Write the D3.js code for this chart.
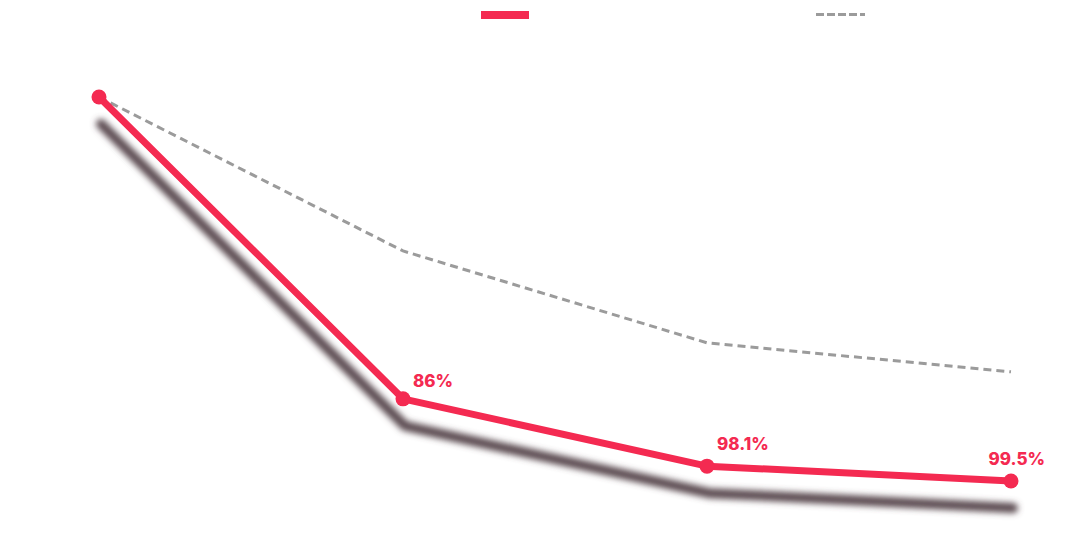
<!DOCTYPE html>
<html><head><meta charset="utf-8">
<script src="https://cdn.jsdelivr.net/npm/d3@7"></script>
<style>html,body{margin:0;padding:0;background:#fff;}svg{display:block;}</style>
</head><body>
<svg id="chart" width="1070" height="560"></svg>
<script>
const steps = [0, 1, 2, 3];
const redValues = [100, 25.1, 8.4, 4.7];
const grayValues = [100, 61.8, 39.0, 31.8];
const labels = [null, "86%", "98.1%", "99.5%"];

const svg = d3.select("#chart");
const RED = "#f42a51", GRAY = "#9b9b9b", SHADOW = "#5a4a4f";

const x = d3.scaleLinear().domain([0, 3]).range([99, 1011]);
const y = d3.scaleLinear().domain([0, 100]).range([500, 97]);

const defs = svg.append("defs");
defs.append("filter").attr("id", "blur").attr("x", "-10%").attr("y", "-10%").attr("width", "120%").attr("height", "130%")
  .append("feGaussianBlur").attr("stdDeviation", 3.3);

const line = d3.line().x((d, i) => x(steps[i])).y(d => y(d));

// legend
svg.append("rect").attr("x", 481).attr("y", 11).attr("width", 48).attr("height", 8).attr("fill", RED);
svg.append("line").attr("x1", 816).attr("x2", 865).attr("y1", 14.5).attr("y2", 14.5)
  .attr("stroke", GRAY).attr("stroke-width", 3).attr("stroke-dasharray", "8,3");

// gray dashed
svg.append("path").datum(grayValues).attr("d", line).attr("fill", "none")
  .attr("stroke", GRAY).attr("stroke-width", 3).attr("stroke-dasharray", "8,5");

// shadow
svg.append("path").datum(redValues).attr("d", line).attr("fill", "none")
  .attr("transform", "translate(2,27)")
  .attr("stroke", SHADOW).attr("stroke-width", 10).attr("stroke-linecap", "round").attr("stroke-linejoin", "round")
  .attr("filter", "url(#blur)");

// red line
svg.append("path").datum(redValues).attr("d", line).attr("fill", "none")
  .attr("stroke", RED).attr("stroke-width", 7).attr("stroke-linejoin", "round");

svg.selectAll("circle.pt").data(redValues).enter().append("circle")
  .attr("class", "pt").attr("cx", (d, i) => x(steps[i])).attr("cy", d => y(d)).attr("r", 7.5).attr("fill", RED);

const pts = redValues.map((v, i) => ({ v, i, label: labels[i] })).filter(p => p.label);
svg.selectAll("text.lbl").data(pts).enter()
  .append("text").attr("class", "lbl")
  .attr("x", p => p.i === 3 ? x(steps[p.i]) + 34 : x(steps[p.i]) + 10)
  .attr("y", p => y(p.v) - (p.i === 1 ? 12 : 16))
  .attr("text-anchor", p => p.i === 3 ? "end" : "start")
  .attr("font-family", "Inter, Roboto, sans-serif").attr("font-weight", 800).attr("font-size", 17)
  .attr("fill", RED)
  .text(p => p.label);
</script>
</body></html>
